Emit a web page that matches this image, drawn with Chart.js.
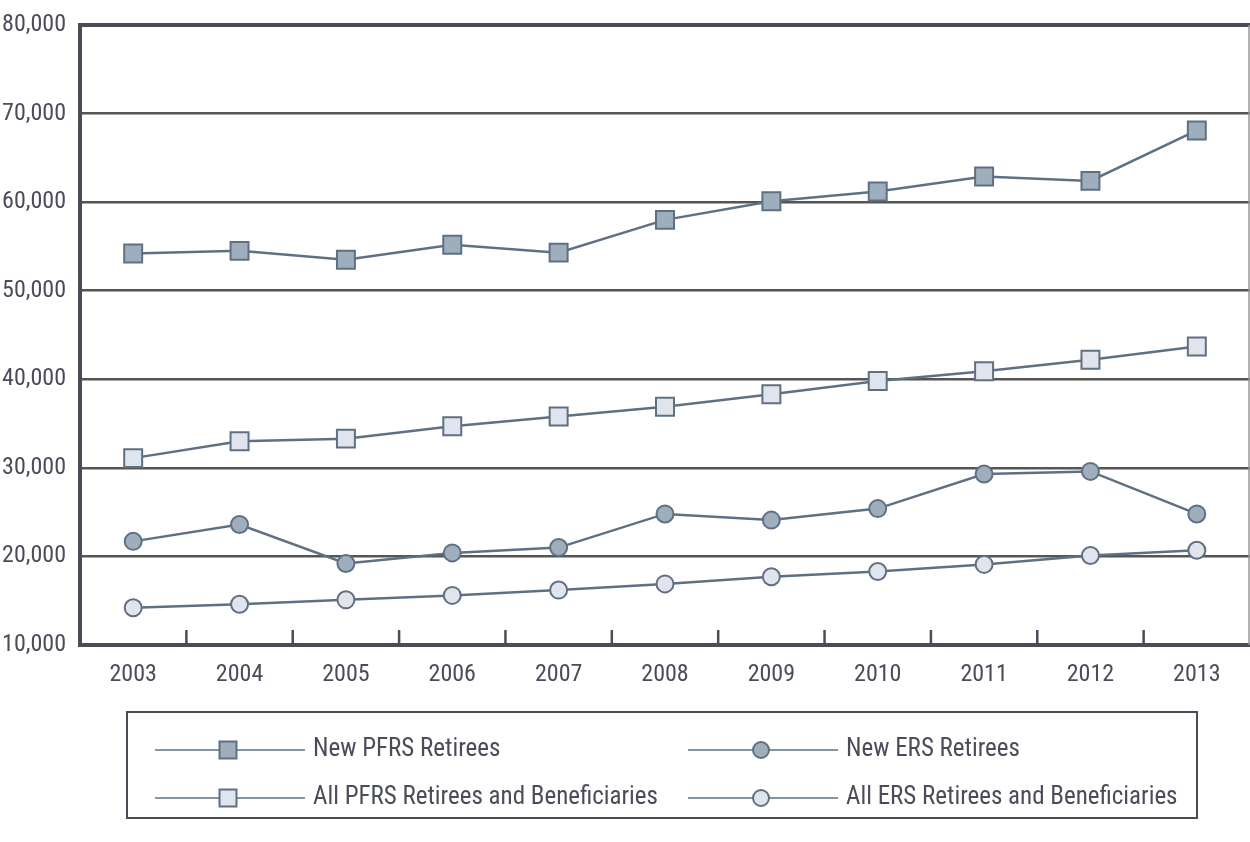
<!DOCTYPE html>
<html>
<head>
<meta charset="utf-8">
<script src="https://cdn.jsdelivr.net/npm/chart.js@4/dist/chart.umd.min.js"></script>
<style>
  html, body { margin: 0; padding: 0; background: #fff; overflow: hidden; }
  canvas { display: block; }
</style>
</head>
<body>
<canvas id="retirees" width="1250" height="842"></canvas>
<script>
// data
const years = ['2003', '2004', '2005', '2006', '2007', '2008', '2009', '2010', '2011', '2012', '2013'];
const newPFRS = [54200, 54500, 53500, 55200, 54300, 58000, 60100, 61200, 62900, 62400, 68100];
const allPFRS = [31100, 33000, 33300, 34700, 35800, 36900, 38300, 39800, 40900, 42200, 43700];
const newERS  = [21700, 23600, 19200, 20400, 21000, 24800, 24100, 25400, 29300, 29600, 24800];
const allERS  = [14200, 14600, 15100, 15600, 16200, 16900, 17700, 18300, 19100, 20100, 20700];
const yTicks = [10000, 20000, 30000, 40000, 50000, 60000, 70000, 80000];

const FONT = '"Roboto", "Open Sans", "DejaVu Sans", sans-serif';
const STRETCH = '400 condensed';
const TEXT = '#4a4c5a';
const LINE = '#5f7083';
const DARK_FILL = '#9eaebc';
const LIGHT_FILL = '#e0e4ec';

function series(label, data, style, fill) {
    return {
        label: label,
        data: data,
        borderColor: LINE,
        borderWidth: 2.5,
        pointStyle: style,
        pointRadius: style === 'rect' ? 12.7 : 8.5,
        pointBackgroundColor: fill,
        pointBorderColor: LINE,
        pointBorderWidth: 2,
        tension: 0
    };
}

// inner tick marks between the years + thin right border
const innerTicks = {
    id: 'innerTicks',
    afterDatasetsDraw(chart) {
        const ctx = chart.ctx;
        const x = chart.scales.x;
        const area = chart.chartArea;
        ctx.save();
        ctx.strokeStyle = '#4a4c58';
        ctx.lineWidth = 2.5;
        for (let i = 0; i < years.length - 1; i++) {
            const px = (x.getPixelForTick(i) + x.getPixelForTick(i + 1)) / 2;
            ctx.beginPath();
            ctx.moveTo(px, area.bottom);
            ctx.lineTo(px, area.bottom - 15);
            ctx.stroke();
        }
        ctx.strokeStyle = '#999';
        ctx.lineWidth = 1.5;
        ctx.beginPath();
        ctx.moveTo(area.right - 1, area.top);
        ctx.lineTo(area.right - 1, area.bottom);
        ctx.stroke();
        ctx.restore();
    }
};

// boxed legend with line + marker in the middle
const boxLegend = {
    id: 'boxLegend',
    afterDraw(chart) {
        const ctx = chart.ctx;
        const box = { left: 127, top: 712, right: 1197, bottom: 818 };
        ctx.save();
        ctx.strokeStyle = '#4a4c58';
        ctx.lineWidth = 2;
        ctx.strokeRect(box.left, box.top, box.right - box.left, box.bottom - box.top);
        const cols = [155, 688];
        const rows = [750, 798];
        const order = [0, 2, 1, 3];
        chart.data.datasets.forEach(function(ds, i) {
            const slot = order[i];
            const x0 = cols[slot % 2];
            const y0 = rows[Math.floor(slot / 2)];
            ctx.strokeStyle = ds.borderColor;
            ctx.lineWidth = 1.5;
            ctx.beginPath();
            ctx.moveTo(x0, y0);
            ctx.lineTo(x0 + 150, y0);
            ctx.stroke();
            ctx.fillStyle = ds.pointBackgroundColor;
            ctx.strokeStyle = ds.pointBorderColor;
            ctx.lineWidth = 2;
            Chart.helpers.drawPoint(ctx, {
                pointStyle: ds.pointStyle,
                radius: ds.pointStyle === 'rect' ? 12 : 8,
                borderWidth: 2
            }, x0 + 73, y0);
            ctx.fillStyle = TEXT;
            ctx.font = STRETCH + ' 25px ' + FONT;
            ctx.textBaseline = 'middle';
            ctx.fillText(ds.label, x0 + 158, y0);
        });
        ctx.restore();
    }
};

const ctx = document.getElementById('retirees').getContext('2d');

const chart = new Chart(ctx, {
    type: 'line',
    data: {
        labels: years,
        datasets: [
            series('New PFRS Retirees', newPFRS, 'rect', DARK_FILL),
            series('All PFRS Retirees and Beneficiaries', allPFRS, 'rect', LIGHT_FILL),
            series('New ERS Retirees', newERS, 'circle', DARK_FILL),
            series('All ERS Retirees and Beneficiaries', allERS, 'circle', LIGHT_FILL)
        ]
    },
    options: {
        responsive: false,
        animation: false,
        layout: { autoPadding: false, padding: { top: 25, right: 0, left: 0, bottom: 0 } },
        plugins: {
            legend: { display: false },
            tooltip: { enabled: false }
        },
        scales: {
            x: {
                offset: true,
                grid: { display: false },
                border: { color: '#4a4c58', width: 4 },
                ticks: { color: TEXT, font: { family: FONT, size: 24, weight: STRETCH }, padding: 8, maxRotation: 0 },
                afterFit(scale) {
                    scale.height = 197;
                    scale.paddingLeft = 0;
                    scale.paddingRight = 0;
                }
            },
            y: {
                min: 10000,
                max: 80000,
                afterBuildTicks(scale) { scale.ticks = yTicks.map(v => ({ value: v })); },
                grid: {
                    drawTicks: false,
                    color: function(c) { return c.tick && c.tick.value === 80000 ? '#4a4c58' : '#555'; },
                    lineWidth: function(c) { return c.tick && c.tick.value === 80000 ? 4 : 2.5; }
                },
                border: { color: '#4a4c58', width: 4 },
                ticks: {
                    color: TEXT,
                    font: { family: FONT, size: 24, weight: STRETCH },
                    padding: 14,
                    callback: v => v.toLocaleString('en-US')
                },
                afterFit(scale) {
                    scale.width = 80;
                    scale.paddingTop = 0;
                    scale.paddingBottom = 0;
                }
            }
        }
    },
    plugins: [innerTicks, boxLegend]
});
</script>
</body>
</html>
